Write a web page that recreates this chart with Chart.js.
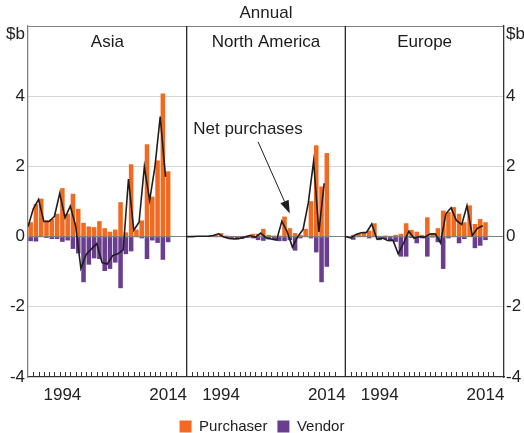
<!DOCTYPE html>
<html lang="en">
<head>
<meta charset="UTF-8" />
<title>Purchases and sales by region</title>
<style>
  html, body { margin: 0; padding: 0; background: #fff; }
  #wrap { width: 524px; height: 433px; }
</style>
</head>
<body>
<div id="wrap"><canvas id="chart" width="524" height="433"></canvas></div>

<script src="https://cdn.jsdelivr.net/npm/chart.js"></script>
<script>
  // one panel per region, years 1988 onwards, 30 year slots per panel
  const regions = ['Asia', 'North America', 'Europe'];
  const firstYear = 1988;
  const yearsPerPanel = 30;
  const tickYears = [1994, 2014];
  const yTicks = [-4, -2, 0, 2, 4];

  const asiaPurchaser = [0.41, 0.93, 1.08, 0.47, 0.5, 0.65, 1.38, 0.65, 1.22, 0.79, 0.39, 0.29, 0.27, 0.44, 0.24, 0.14, 0.2, 0.98, 0.12, 2.06, 0.2, 0.46, 2.63, 1.14, 2.17, 4.08, 1.86];
  const asiaVendor = [-0.13, -0.14, -0.02, -0.04, -0.07, -0.07, -0.15, -0.11, -0.35, -0.48, -1.3, -0.8, -0.62, -0.64, -0.98, -0.92, -0.74, -1.47, -0.5, -0.42, -0.02, -0.05, -0.64, -0.11, -0.18, -0.66, -0.16];
  const asiaNet = [0.28, 0.79, 1.06, 0.43, 0.43, 0.58, 1.23, 0.54, 0.87, 0.31, -0.91, -0.51, -0.35, -0.2, -0.74, -0.78, -0.54, -0.49, -0.38, 1.64, 0.18, 0.41, 1.99, 1.03, 1.99, 3.42, 1.7];

  const naPurchaser = [0, 0, 0.01, 0.01, 0.02, 0.05, 0.1, 0.03, 0.02, 0.01, 0.02, 0.03, 0.08, 0.08, 0.22, 0.05, 0.03, 0.03, 0.57, 0.24, 0.1, 0.05, 0.22, 1.01, 2.6, 1.43, 2.38];
  const naVendor = [0, 0, 0, 0, -0.01, -0.02, -0.02, -0.04, -0.07, -0.08, -0.07, -0.04, -0.05, -0.1, -0.12, -0.08, -0.1, -0.13, -0.13, -0.1, -0.4, -0.05, -0.02, -0.05, -0.45, -1.3, -0.86];
  const naNet = [0, 0, 0.01, 0.01, 0.01, 0.03, 0.08, -0.01, -0.05, -0.07, -0.05, -0.01, 0.03, -0.02, 0.1, -0.03, -0.07, -0.1, 0.44, 0.14, -0.3, 0, 0.2, 0.96, 2.15, 0.13, 1.52];

  const euPurchaser = [0, 0.05, 0.08, 0.12, 0.17, 0.38, 0.02, 0.03, 0.02, 0.05, 0.08, 0.38, 0.19, 0.14, 0.05, 0.55, 0.1, 0.24, 0.74, 0.7, 0.84, 0.65, 0.41, 0.89, 0.36, 0.5, 0.41];
  const euVendor = [0, -0.09, -0.02, -0.01, -0.05, -0.02, -0.1, -0.07, -0.13, -0.15, -0.57, -0.57, -0.04, -0.19, -0.05, -0.57, -0.03, -0.16, -0.92, -0.05, -0.02, -0.19, -0.07, -0.01, -0.33, -0.26, -0.1];
  const euNet = [0, -0.04, 0.06, 0.11, 0.12, 0.36, -0.08, -0.04, -0.11, -0.1, -0.49, -0.19, 0.15, -0.05, 0, -0.02, 0.07, 0.08, -0.18, 0.65, 0.82, 0.46, 0.34, 0.88, 0.03, 0.24, 0.31];

  const purchaser = [asiaPurchaser, naPurchaser, euPurchaser];
  const vendor = [asiaVendor, naVendor, euVendor];
  const net = [asiaNet, naNet, euNet];

  const ORANGE = '#f26a21';
  const PURPLE = '#6a3d8f';
  const FONT = '"Liberation Sans", Arial, sans-serif';

  // x is a running slot number: panel * 30 + (year - 1988)
  function toPoints(arr, p, shift) {
    return arr.map((v, i) => ({ x: p * yearsPerPanel + i + shift, y: v }));
  }

  const lineSets = net.map((arr, p) => ({
    type: 'line',
    label: 'Net purchases ' + regions[p],
    data: toPoints(arr, p, -0.5),
    borderColor: '#1e1e1e',
    borderWidth: 1.6,
    pointRadius: 0,
    tension: 0,
    order: 0
  }));

  const xTickValues = [];
  regions.forEach((r, p) => tickYears.forEach(y => xTickValues.push(p * yearsPerPanel + y - firstYear)));

  const yTickList = yTicks.concat([5.77, 6]); // 5.77 carries the "$b" unit label

  function yLabel(v) {
    if (v === 6) return '';
    if (v > 5) return '$b';
    return String(v);
  }

  const panelPlugin = {
    id: 'panels',
    afterDatasetsDraw(chart) {
      const { ctx, chartArea, scales } = chart;
      const x = scales.x, y = scales.y;
      ctx.save();

      // small year ticks pointing up from the bottom axis
      ctx.strokeStyle = '#333';
      ctx.lineWidth = 1;
      for (let p = 0; p < regions.length; p++) {
        for (let k = 1; k <= 28; k++) {
          const px = Math.round(x.getPixelForValue(p * yearsPerPanel - 0.5 + k)) + 0.5;
          ctx.beginPath();
          ctx.moveTo(px, chartArea.bottom);
          ctx.lineTo(px, chartArea.bottom - 5);
          ctx.stroke();
        }
      }

      // panel separators
      ctx.strokeStyle = '#262626';
      ctx.lineWidth = 1.3;
      for (let p = 1; p < regions.length; p++) {
        const px = x.getPixelForValue(p * yearsPerPanel - 0.5);
        ctx.beginPath();
        ctx.moveTo(px, chartArea.top);
        ctx.lineTo(px, chartArea.bottom);
        ctx.stroke();
      }

      // panel titles
      ctx.fillStyle = '#1a1a1a';
      ctx.font = '17px ' + FONT;
      ctx.textAlign = 'center';
      ctx.textBaseline = 'middle';
      regions.forEach((r, p) => {
        const cx = (x.getPixelForValue(p * yearsPerPanel - 0.5) + x.getPixelForValue((p + 1) * yearsPerPanel - 0.5)) / 2;
        ctx.fillText(r, cx, chartArea.top + 16);
      });

      // frequency label above the frame
      ctx.fillStyle = '#222';
      ctx.fillText('Annual', (chartArea.left + chartArea.right) / 2, 13);

      // "Net purchases" annotation with arrow
      ctx.fillText('Net purchases', x.getPixelForValue(41.1), y.getPixelForValue(3.06));
      const x0 = x.getPixelForValue(43), y0 = y.getPixelForValue(2.7);
      const x1 = x.getPixelForValue(49), y1 = y.getPixelForValue(0.66);
      const ang = Math.atan2(y1 - y0, x1 - x0);
      const hl = 13, hw = 4.5;
      const bx = x1 - hl * Math.cos(ang), by = y1 - hl * Math.sin(ang);
      ctx.strokeStyle = '#1e1e1e';
      ctx.lineWidth = 1;
      ctx.beginPath();
      ctx.moveTo(x0, y0);
      ctx.lineTo(bx, by);
      ctx.stroke();
      ctx.fillStyle = '#1e1e1e';
      ctx.beginPath();
      ctx.moveTo(x1, y1);
      ctx.lineTo(bx + hw * Math.sin(ang), by - hw * Math.cos(ang));
      ctx.lineTo(bx - hw * Math.sin(ang), by + hw * Math.cos(ang));
      ctx.closePath();
      ctx.fill();

      ctx.restore();
    }
  };

  new Chart(document.getElementById('chart'), {
    type: 'bar',
    data: {
      datasets: [
        {
          label: 'Purchaser',
          data: purchaser.flatMap((arr, p) => toPoints(arr, p, 0)),
          backgroundColor: ORANGE,
          order: 1
        },
        {
          label: 'Vendor',
          data: vendor.flatMap((arr, p) => toPoints(arr, p, 0)),
          backgroundColor: PURPLE,
          order: 1
        },
        ...lineSets
      ]
    },
    options: {
      responsive: false,
      animation: false,
      layout: { padding: { top: 26, left: 0, right: 0, bottom: -11 } },
      datasets: {
        bar: { grouped: false, categoryPercentage: 1, barPercentage: 0.86 }
      },
      plugins: {
        legend: {
          position: 'bottom',
          labels: {
            filter: item => item.datasetIndex < 2,
            boxWidth: 12,
            boxHeight: 12,
            padding: 10,
            color: '#222',
            font: { family: FONT, size: 15 }
          }
        },
        tooltip: { enabled: false }
      },
      scales: {
        x: {
          type: 'linear',
          offset: false,
          min: -0.5,
          max: regions.length * yearsPerPanel - 0.5,
          afterBuildTicks: s => { s.ticks = xTickValues.map(v => ({ value: v })); },
          afterFit: s => { s.height = 32; },
          grid: { display: false, drawTicks: false },
          border: { color: '#333', width: 1.3 },
          ticks: {
            autoSkip: false,
            maxRotation: 0,
            padding: 8,
            color: '#222',
            font: { family: FONT, size: 17 },
            callback: v => String(firstYear + (Math.round(v) % yearsPerPanel))
          }
        },
        y: {
          position: 'left',
          min: -4,
          max: 6,
          afterBuildTicks: s => { s.ticks = yTickList.map(v => ({ value: v })); },
          afterFit: s => { s.width = 28; },
          grid: {
            drawTicks: false,
            lineWidth: 1,
            color: c => {
              const v = c.tick.value;
              if (v === 0 || v === 6) return '#808080';
              if (v > 5 || v === -4) return 'rgba(0,0,0,0)';
              return '#d6d6d6';
            }
          },
          border: { color: '#808080', width: 1.3 },
          ticks: {
            padding: 3,
            color: '#222',
            font: { family: FONT, size: 17 },
            callback: yLabel
          }
        },
        y2: {
          position: 'right',
          min: -4,
          max: 6,
          afterBuildTicks: s => { s.ticks = yTickList.map(v => ({ value: v })); },
          afterFit: s => { s.width = 20; },
          grid: { display: false, drawTicks: false },
          border: { color: '#333', width: 1.3 },
          ticks: {
            padding: 2,
            color: '#222',
            font: { family: FONT, size: 17 },
            callback: yLabel
          }
        }
      }
    },
    plugins: [panelPlugin]
  });
</script>
</body>
</html>
